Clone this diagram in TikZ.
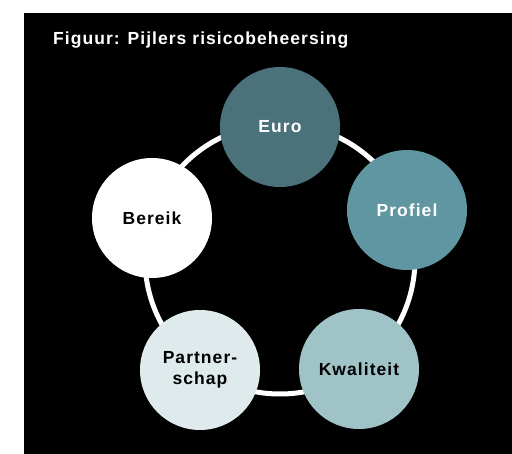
\documentclass[tikz,border=0pt]{standalone}
\usepackage{fontspec}
\setmainfont{Liberation Sans}[LetterSpace=6]
\definecolor{cEuro}{HTML}{4B727A}
\definecolor{cProfiel}{HTML}{6096A1}
\definecolor{cKwal}{HTML}{A0C3C8}
\definecolor{cPartner}{HTML}{DEEAEC}
\tikzset{
  pillar/.style={circle, minimum size=120pt, inner sep=0pt, align=center,
    font=\fontsize{17.5pt}{21pt}\selectfont\bfseries},
  ring/.style={draw=white, line width=5pt},
  title/.style={anchor=base west, text=white, inner sep=0pt,
    font=\fontsize{17.5pt}{21pt}\selectfont\bfseries}
}
\begin{document}
\begin{tikzpicture}[x=1pt,y=-1pt]
\useasboundingbox (0,0) rectangle (512,454);
\fill[white] (0,0) rectangle (512,454);
\fill[black] (24,13) rectangle (512,454);
\node[title] (t) at (53,45) {Figuur: Pijlers risicobeheersing};
\coordinate (c) at (280,259);
\draw[ring] (c) circle[radius=135];
\node[pillar, fill=cEuro, text=white] (euro) at (280,127) {Euro};
\node[pillar, fill=cProfiel, text=white] (profiel) at (407,210) {Profiel};
\node[pillar, fill=cKwal, text=black] (kwal) at (359,369) {Kwaliteit};
\node[pillar, fill=cPartner, text=black] (partner) at (200,370) {Partner-\\schap};
\node[pillar, fill=white, text=black] (bereik) at (152,218) {Bereik};
\end{tikzpicture}
\end{document}
